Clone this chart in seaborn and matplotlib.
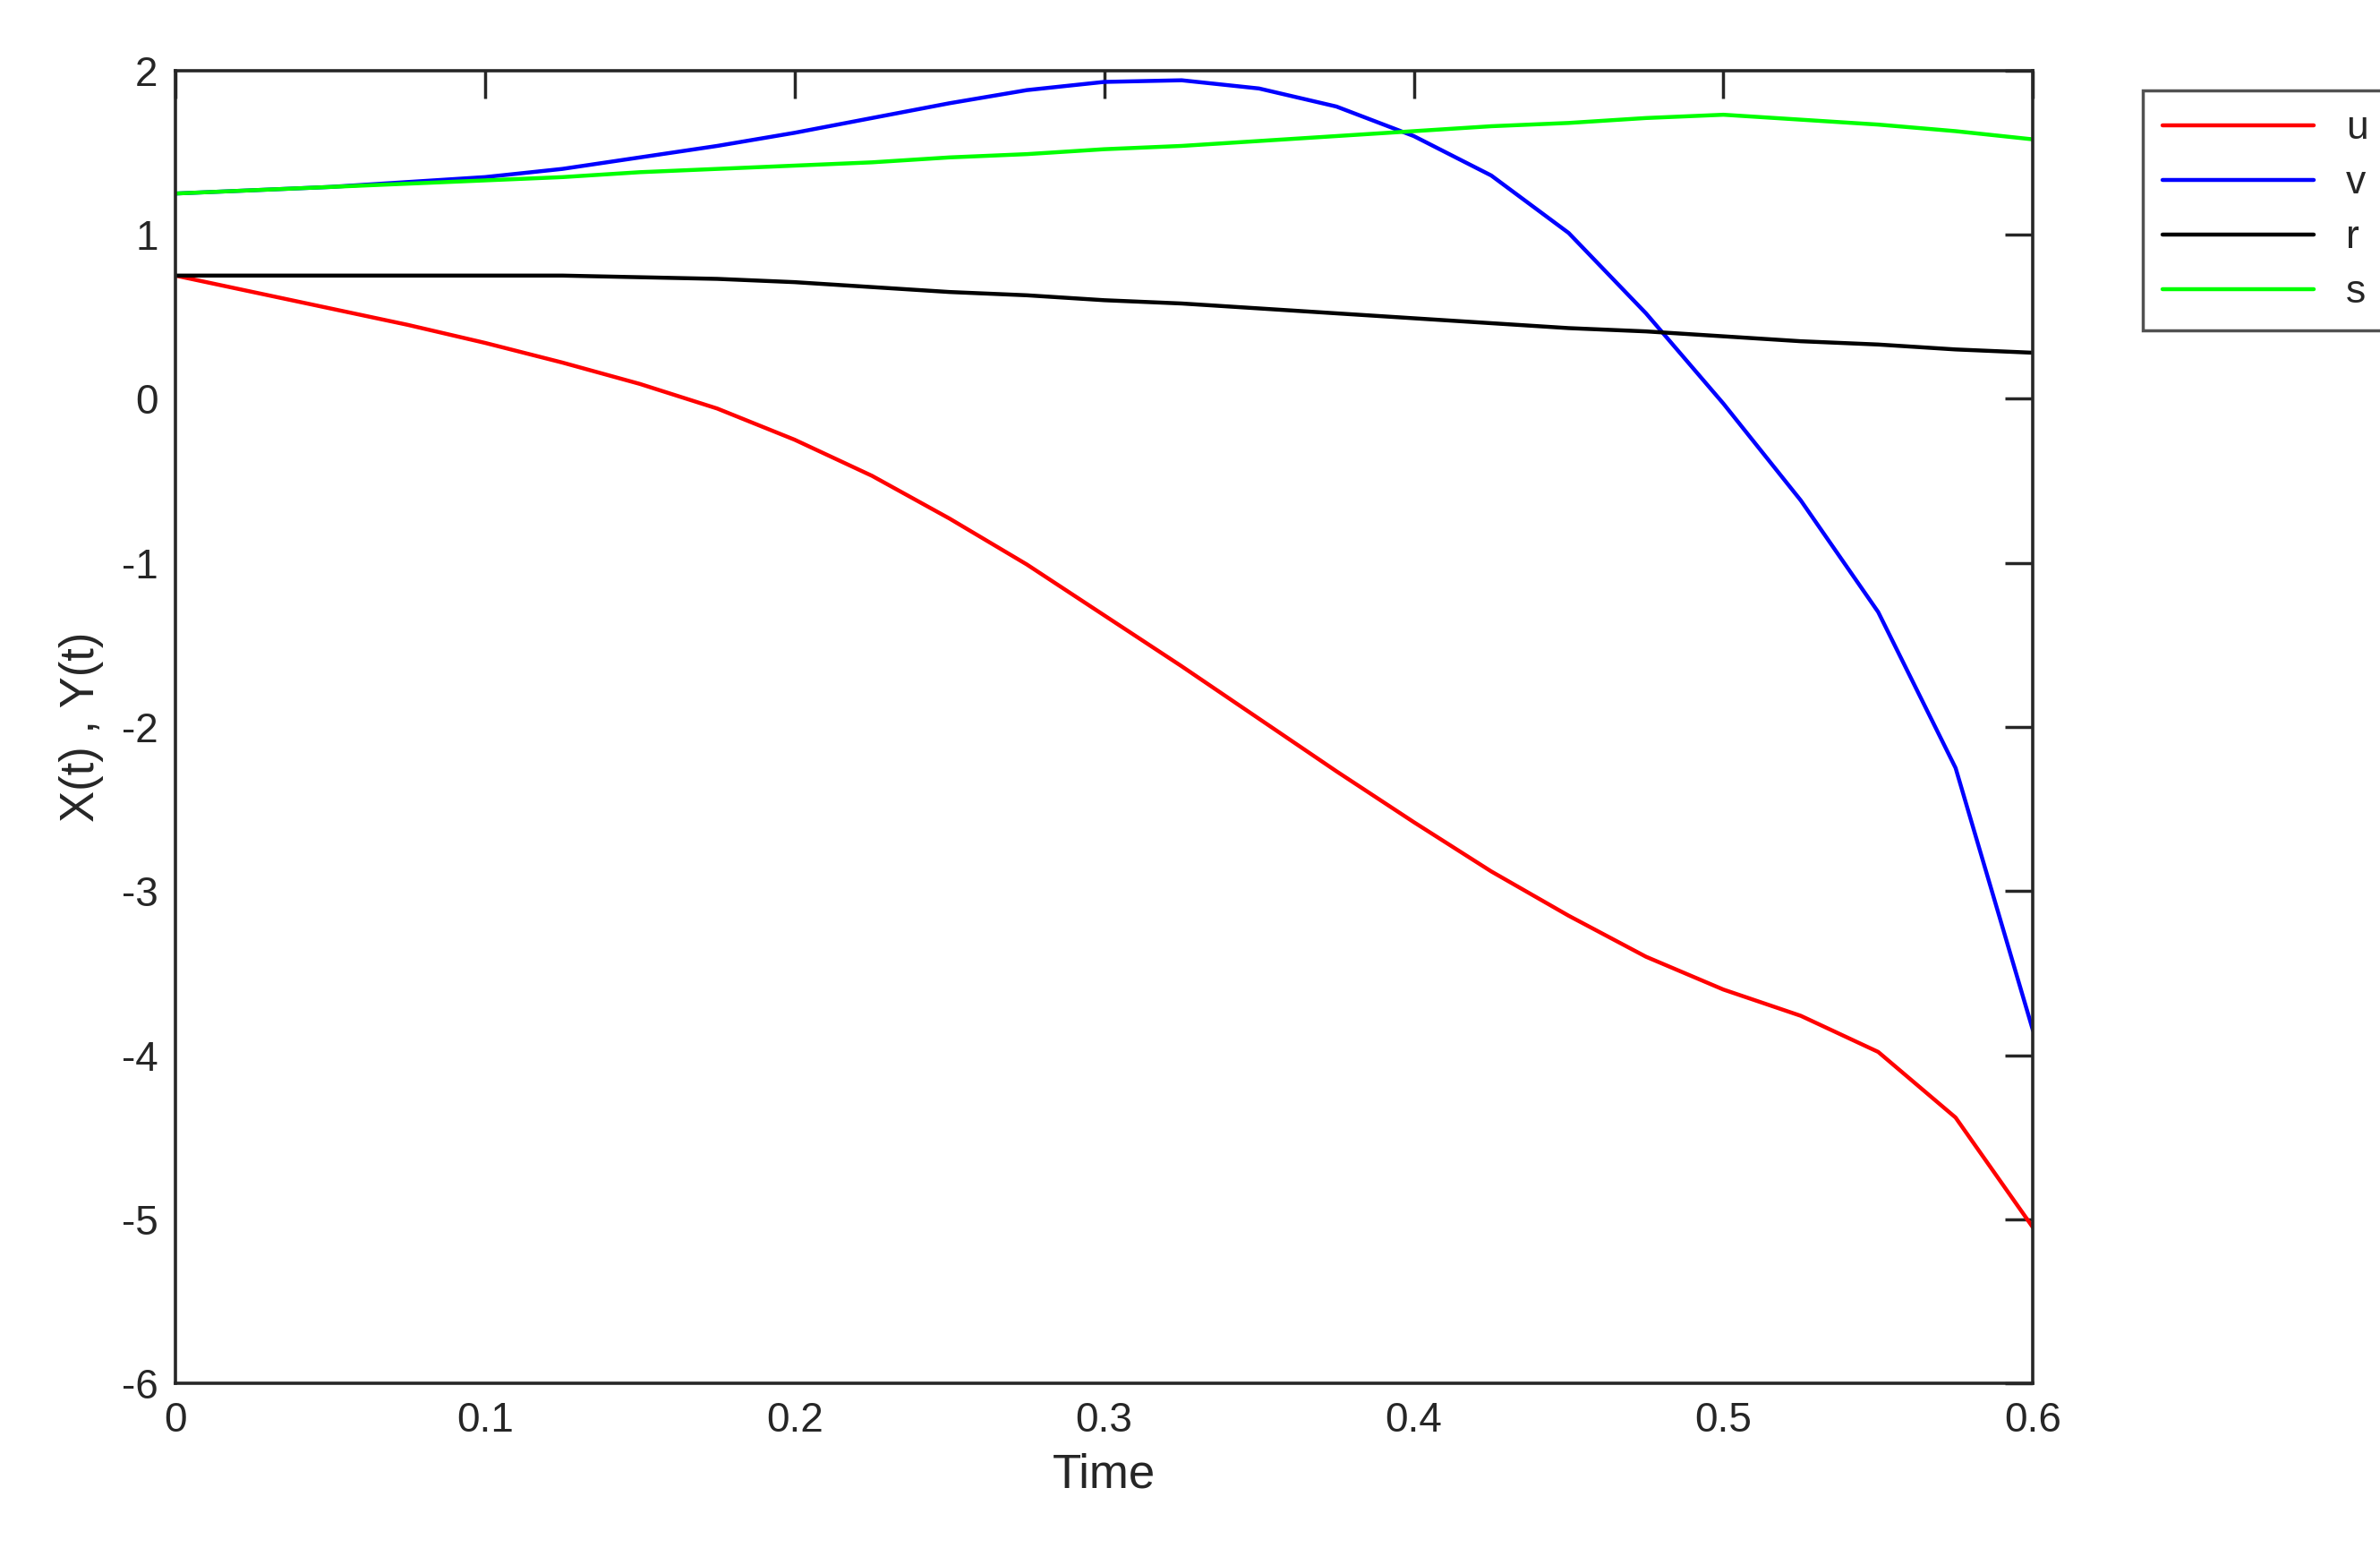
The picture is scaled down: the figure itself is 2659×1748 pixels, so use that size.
import numpy as np
import pandas as pd
import matplotlib
matplotlib.use("Agg")
import matplotlib.pyplot as plt
import seaborn as sns

# values
t = [0.0, 0.025, 0.05, 0.075, 0.1, 0.125, 0.15, 0.175, 0.2, 0.225, 0.25, 0.275, 0.3,
     0.325, 0.35, 0.375, 0.4, 0.425, 0.45, 0.475, 0.5, 0.525, 0.55, 0.575, 0.6]
u = [0.75, 0.65, 0.55, 0.45, 0.34, 0.22, 0.09, -0.06, -0.25, -0.47, -0.73, -1.01, -1.32,
     -1.63, -1.95, -2.27, -2.58, -2.88, -3.15, -3.40, -3.60, -3.76, -3.98, -4.38, -5.05]
v = [1.25, 1.27, 1.29, 1.32, 1.35, 1.40, 1.47, 1.54, 1.62, 1.71, 1.80, 1.88, 1.93,
     1.94, 1.89, 1.78, 1.60, 1.36, 1.01, 0.52, -0.03, -0.62, -1.30, -2.25, -3.85]
r = [0.75, 0.75, 0.75, 0.75, 0.75, 0.75, 0.74, 0.73, 0.71, 0.68, 0.65, 0.63, 0.60,
     0.58, 0.55, 0.52, 0.49, 0.46, 0.43, 0.41, 0.38, 0.35, 0.33, 0.30, 0.28]
s = [1.25, 1.27, 1.29, 1.31, 1.33, 1.35, 1.38, 1.40, 1.42, 1.44, 1.47, 1.49, 1.52,
     1.54, 1.57, 1.60, 1.63, 1.66, 1.68, 1.71, 1.73, 1.70, 1.67, 1.63, 1.58]

df = pd.DataFrame({"Time": t * 4,
                   "value": u + v + r + s,
                   "series": ["u"] * len(t) + ["v"] * len(t) + ["r"] * len(t) + ["s"] * len(t)})

sns.set_style("white")
plt.rcParams["font.family"] = ["Liberation Sans", "DejaVu Sans"]
plt.rcParams["axes.unicode_minus"] = False

fig = plt.figure(figsize=(26.59, 17.48), dpi=100)
ax = fig.add_axes([0.0737, 0.116, 0.7805, 0.839])
sns.lineplot(data=df, x="Time", y="value", hue="series", ax=ax,
             palette={"u": "#ff0000", "v": "#0000ff", "r": "#000000", "s": "#00ff00"},
             linewidth=3.2)

ax.set_xlim(0, 0.6)
ax.set_ylim(-6, 2)
ax.set_xticks(np.arange(0, 0.61, 0.1))
ax.set_xticklabels(["0", "0.1", "0.2", "0.3", "0.4", "0.5", "0.6"])
ax.set_yticks(range(-6, 3))
ax.tick_params(direction="in", length=22, width=2.5, labelsize=33, top=True, right=True,
               pad=14, colors="#262626")
for sp in ax.spines.values():
    sp.set_linewidth(2.6)
    sp.set_color("#262626")
ax.set_xlabel("Time", fontsize=38, labelpad=10)
ax.set_ylabel("X(t) , Y(t)", fontsize=38, labelpad=14)

leg = ax.legend(loc="upper left", bbox_to_anchor=(0.892, 0.955), bbox_transform=fig.transFigure,
                fontsize=32, frameon=True, fancybox=False, handlelength=3.8,
                borderpad=0.5, labelspacing=0.45)
leg.get_frame().set_edgecolor("#262626")
leg.get_frame().set_linewidth(2.5)
for line in leg.get_lines():
    line.set_linewidth(3.2)

fig.savefig("out.png", dpi=100)
